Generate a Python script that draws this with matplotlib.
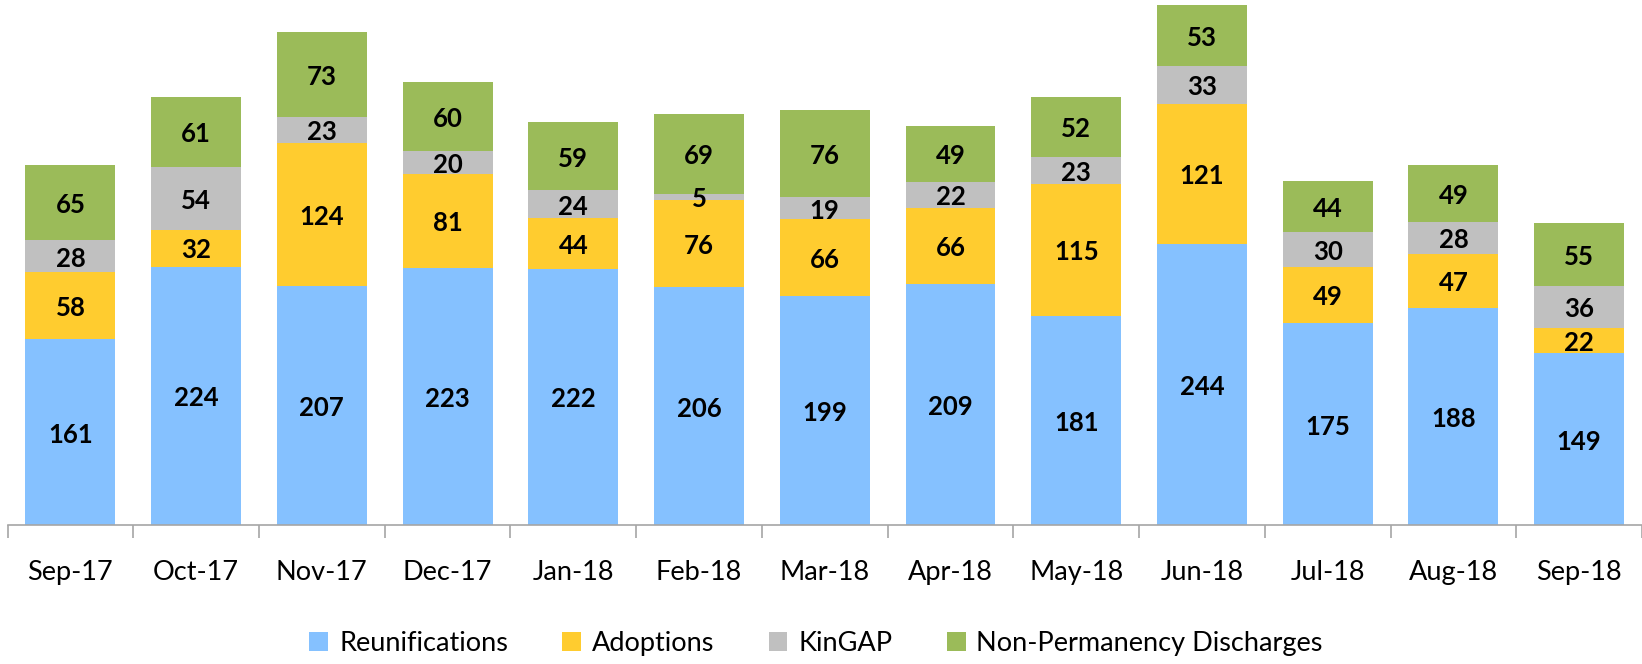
import numpy as np
import matplotlib.pyplot as plt

months = ["Sep-17", "Oct-17", "Nov-17", "Dec-17", "Jan-18", "Feb-18", "Mar-18",
          "Apr-18", "May-18", "Jun-18", "Jul-18", "Aug-18", "Sep-18"]
reunifications = [161, 224, 207, 223, 222, 206, 199, 209, 181, 244, 175, 188, 149]
adoptions = [58, 32, 124, 81, 44, 76, 66, 66, 115, 121, 49, 47, 22]
kingap = [28, 54, 23, 20, 24, 5, 19, 22, 23, 33, 30, 28, 36]
non_perm = [65, 61, 73, 60, 59, 69, 76, 49, 52, 53, 44, 49, 55]

series = [("Reunifications", reunifications, "#85C1FF"),
          ("Adoptions", adoptions, "#FFCC2F"),
          ("KinGAP", kingap, "#C0C0C0"),
          ("Non-Permanency Discharges", non_perm, "#9BBB59")]

plt.rcParams['font.family'] = ['Lato', 'DejaVu Sans']

fig = plt.figure(figsize=(16.42, 6.64), dpi=100)
ax = fig.add_axes([0.0046, 0.209, 0.9954, 0.791])

x = np.arange(len(months))
bottom = np.zeros(len(months))
for name, vals, color in series:
    vals = np.array(vals, dtype=float)
    ax.bar(x, vals, 0.715, bottom=bottom, color=color, label=name)
    for xi, b, v in zip(x, bottom, vals):
        ax.text(xi, b + v / 2 - 2, str(int(v)), ha='center', va='center',
                fontsize=18.5, fontweight='bold', color='black')
    bottom += vals

ax.set_xlim(-0.5, len(months) - 0.5)
ax.set_ylim(0, 455)
for s in ['top', 'right', 'left']:
    ax.spines[s].set_visible(False)
ax.spines['bottom'].set_color('#A6A6A6')
ax.spines['bottom'].set_linewidth(1.2)
ax.set_yticks([])
ax.set_xticks(x)
ax.set_xticklabels(months, fontsize=19.5)
ax.tick_params(axis='x', which='major', length=0, pad=25)
ax.set_xticks(np.arange(-0.5, len(months)), minor=True)
ax.tick_params(axis='x', which='minor', length=9, color='#A6A6A6', width=1.2)

fig.legend(loc='center', bbox_to_anchor=(0.497, 0.031), ncol=4, frameon=False,
           fontsize=19.5, handlelength=0.7, handleheight=0.7, columnspacing=2.0,
           handletextpad=0.4)

fig.savefig("out.png", dpi=100)
